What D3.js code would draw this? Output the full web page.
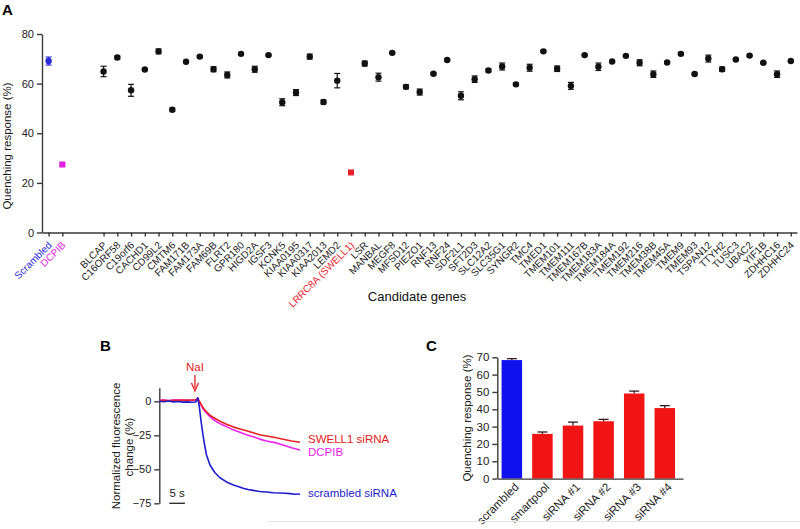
<!DOCTYPE html>
<html>
<head>
<meta charset="utf-8">
<script src="https://cdn.jsdelivr.net/npm/d3@7"></script>
<style>
  body { margin: 0; background: #fff; }
  svg { display: block; font-family: "Liberation Sans", Arial, sans-serif; }
</style>
</head>
<body>
<div id="body"></div>
<script>
// ---- panel A data ----
var controls = ["Scrambled", "DCPIB"];
var controlMean = [69.1, 27.4];
var controlSem = [1.6, 0.5];
var controlColor = ["#2a2ad8", "#e41ee4"];

var genes = ["BLCAP","C16ORF58","C19orf6","CACHD1","CD99L2","CMTM6","FAM171B","FAM173A","FAM69B","FLRT2",
  "GPR180","HIGD2A","IGSF3","KCNK5","KIAA0195","KIAA0317","KIAA2013","LEMD2","LRRC8A (SWELL1)","LSR",
  "MANBAL","MEGF8","MFSD12","PIEZO1","RNF13","RNF24","SDF2L1","SFT2D3","SLC12A2","SLC35G1",
  "SYNGR2","TMC4","TMED1","TMEM101","TMEM111","TMEM167B","TMEM183A","TMEM184A","TMEM192","TMEM216",
  "TMEM38B","TMEM45A","TMEM9","TMEM93","TSPAN12","TTYH2","TUSC3","UBAC2","YIF1B","ZDHHC16","ZDHHC24"];
var geneMean = [64.9,70.5,57.3,65.7,73.0,49.5,68.8,70.9,65.8,63.5,
  72.0,65.8,71.5,52.5,56.4,70.9,52.6,61.2,24.2,68.1,
  62.6,72.4,58.7,56.6,64.0,69.5,55.1,61.8,65.3,66.9,
  59.7,66.4,73.0,66.0,59.1,71.5,66.8,68.9,71.2,68.4,
  63.8,68.5,72.0,63.9,70.1,65.8,69.7,71.3,68.4,63.8,69.1];
var geneSem = [2.1,0.6,2.4,0.4,1.0,0.6,0.3,0.4,1.0,1.2,
  0.5,1.2,0.3,1.4,1.2,1.0,0.8,2.9,0.5,1.0,
  1.6,0.3,0.8,1.2,0.4,0.3,1.6,1.3,0.6,1.4,
  0.5,1.4,0.4,1.1,1.4,0.3,1.5,0.3,0.4,1.2,
  1.3,0.3,0.4,0.3,1.4,0.9,0.3,0.3,0.3,1.3,0.4];
var aTicks = [0, 20, 40, 60, 80];

// ---- panel B data (time in s, % change) ----
var blueT = [0,1.5,3,4.5,6,7.5,9,10.5,11.6,12.0,12.3,12.8,13.3,13.9,14.4,15.1,16.2,17.8,19.4,21.5,23.7,25.2,26.8,28.4,30.0,32.1,34.3,36.4,38.6,40.2,41.8,43.4,45];
var blueV = [0,-0.3,0.2,-0.4,-0.2,-0.6,-0.4,-0.7,-0.5,0.9,2.6,-4.0,-13.7,-23.5,-30.9,-39.5,-46.8,-52.5,-56.2,-59.3,-61.5,-62.6,-64.0,-64.9,-65.5,-66.3,-66.7,-67.2,-67.4,-67.6,-67.9,-68.3,-68.2];
var redT = [0,1.5,3,4.5,6,7.5,9,10.5,11.6,12.3,12.9,14.1,15.2,16.2,17.3,18.3,19.9,21.5,23.6,25.8,27.9,30.0,32.1,34.3,37.0,39.6,42.3,45];
var redV = [0.6,0.8,0.4,0.7,0.5,0.9,0.8,1.0,1.1,2.2,-0.3,-5.1,-7.9,-10.1,-11.9,-13.2,-15.3,-16.9,-18.8,-20.4,-21.6,-23.1,-24.6,-25.5,-26.6,-27.9,-29.2,-30.1];
var magT = [0,1.5,3,4.5,6,7.5,9,10.5,11.6,12.3,12.9,14.1,15.2,16.2,17.3,18.3,19.9,21.5,23.6,25.8,27.9,30.0,32.1,34.3,37.0,39.6,42.3,45];
var magV = [0.8,1.0,0.6,0.9,1.1,0.7,0.9,0.8,1.0,2.0,-0.8,-5.9,-9.0,-11.3,-13.4,-15.0,-17.0,-18.6,-21.0,-22.8,-24.6,-26.0,-27.8,-29.2,-30.4,-32.1,-34.2,-35.8];
var bTicks = [0, -25, -50, -75];

// ---- panel C data ----
var cGroups = ["scrambled", "smartpool", "siRNA #1", "siRNA #2", "siRNA #3", "siRNA #4"];
var cMean = [68.4, 25.8, 30.6, 33.1, 49.1, 40.7];
var cSem = [0.8, 1.1, 2.0, 1.1, 1.4, 1.4];
var cColor = ["#1111ee", "#f01414", "#f01414", "#f01414", "#f01414", "#f01414"];
var cTicks = [0, 10, 20, 30, 40, 50, 60, 70];

var svg = d3.select("#body").append("svg").attr("width", 800).attr("height", 529);

function styleAxis(g, size){
  g.selectAll("path, line").attr("stroke", "#3a3a3a").attr("stroke-width", 1.4);
  g.selectAll("text").attr("font-size", size).attr("fill", "#222")
   .attr("font-family", "'Liberation Sans', Arial, sans-serif");
}

// ================= Panel A =================
svg.append("text").attr("x", 2).attr("y", 15).attr("font-size", 15).attr("font-weight", "bold").text("A");

var ax = d3.scaleLinear().domain([-0.48, 54.45]).range([42, 797]);
var ay = d3.scaleLinear().domain([0, 80]).range([232.5, 34]);

var pts = [];
controls.forEach(function(c, i){ pts.push({name: c, slot: i, m: controlMean[i], s: controlSem[i], col: controlColor[i]}); });
genes.forEach(function(g, i){
  pts.push({name: g, slot: i + 4, m: geneMean[i], s: geneSem[i], col: g.indexOf("LRRC8A") == 0 ? "#e8202a" : "#111"});
});

svg.append("g").attr("transform", "translate(42,0)")
  .call(d3.axisLeft(ay).tickValues(aTicks).tickSize(5).tickSizeOuter(0).tickPadding(3))
  .call(styleAxis, 11);
svg.append("g").attr("transform", "translate(0,232.5)")
  .call(d3.axisBottom(ax).tickValues(pts.map(function(d){return d.slot;})).tickFormat("").tickSize(4).tickSizeOuter(0))
  .call(styleAxis, 10);

svg.append("text").attr("transform", "translate(11,146) rotate(-90)").attr("text-anchor", "middle")
  .attr("font-size", 11.5).attr("fill", "#222").text("Quenching response (%)");
svg.append("text").attr("x", 417).attr("y", 301).attr("text-anchor", "middle")
  .attr("font-size", 13).attr("fill", "#111").text("Candidate genes");

var pg = svg.append("g");
pts.forEach(function(d){
  var x = ax(d.slot);
  pg.append("line").attr("x1", x).attr("x2", x).attr("y1", ay(d.m - d.s)).attr("y2", ay(d.m + d.s))
    .attr("stroke", d.col).attr("stroke-width", 1.2);
  [d.m - d.s, d.m + d.s].forEach(function(v){
    pg.append("line").attr("x1", x - 3).attr("x2", x + 3).attr("y1", ay(v)).attr("y2", ay(v))
      .attr("stroke", d.col).attr("stroke-width", 1.2);
  });
  if (d.name == "DCPIB" || d.name.indexOf("LRRC8A") == 0) {
    pg.append("rect").attr("x", x - 3).attr("y", ay(d.m) - 3).attr("width", 6).attr("height", 6).attr("fill", d.col);
  } else {
    pg.append("circle").attr("cx", x).attr("cy", ay(d.m)).attr("r", 3.2).attr("fill", d.col);
  }
  pg.append("text").attr("transform", "translate(" + (x + 1) + ",243) rotate(-45)")
    .attr("text-anchor", "end").attr("dy", "0.4em").attr("font-size", 10)
    .attr("fill", d.col == "#111" ? "#222" : d.col).text(d.name);
});

// ================= Panel B =================
svg.append("text").attr("x", 100).attr("y", 351).attr("font-size", 15).attr("font-weight", "bold").text("B");

var bx = d3.scaleLinear().domain([0, 45]).range([159.3, 300]);
var by = d3.scaleLinear().domain([-75, 10]).range([503.3, 387.7]);

svg.append("g").attr("transform", "translate(159.3,0)")
  .call(d3.axisLeft(by).tickValues(bTicks).tickSize(5).tickSizeOuter(0).tickPadding(3))
  .call(styleAxis, 11);

svg.append("text").attr("transform", "translate(120,446) rotate(-90)").attr("text-anchor", "middle")
  .attr("font-size", 11.5).attr("fill", "#222").text("Normalized fluorescence");
svg.append("text").attr("transform", "translate(133,447) rotate(-90)").attr("text-anchor", "middle")
  .attr("font-size", 11.5).attr("fill", "#222").text("change (%)");

var line = d3.line().x(function(d){return bx(d[0]);}).y(function(d){return by(d[1]);});
var traces = [
  {t: magT, v: magV, col: "#ee22ee"},
  {t: redT, v: redV, col: "#e82020"},
  {t: blueT, v: blueV, col: "#1c1cd0"}
];
traces.forEach(function(tr){
  svg.append("path").datum(d3.zip(tr.t, tr.v)).attr("d", line)
    .attr("fill", "none").attr("stroke", tr.col).attr("stroke-width", 1.6).attr("stroke-linejoin", "round");
});

svg.append("text").attr("x", 308).attr("y", 443).attr("font-size", 11.5).attr("fill", "#e82020").text("SWELL1 siRNA");
svg.append("text").attr("x", 308).attr("y", 456).attr("font-size", 11.5).attr("fill", "#ee22ee").text("DCPIB");
svg.append("text").attr("x", 308).attr("y", 497).attr("font-size", 11.5).attr("fill", "#1c1cd0").text("scrambled siRNA");

// NaI arrow
var ar = bx(11.4);
svg.append("text").attr("x", ar).attr("y", 371).attr("text-anchor", "middle").attr("font-size", 11.5)
  .attr("fill", "#e82020").text("NaI");
svg.append("line").attr("x1", ar).attr("x2", ar).attr("y1", 375).attr("y2", 388).attr("stroke", "#e82020").attr("stroke-width", 1.3);
svg.append("path").attr("d", "M" + (ar - 3.5) + ",383 L" + ar + ",391 L" + (ar + 3.5) + ",383")
  .attr("fill", "none").attr("stroke", "#e82020").attr("stroke-width", 1.3);

// scale bar 5 s
svg.append("line").attr("x1", bx(3.2)).attr("x2", bx(8.2)).attr("y1", 503.3).attr("y2", 503.3)
  .attr("stroke", "#333").attr("stroke-width", 1.4);
svg.append("text").attr("x", bx(5.7)).attr("y", 497).attr("text-anchor", "middle").attr("font-size", 11.5)
  .attr("fill", "#222").text("5 s");

// ================= Panel C =================
svg.append("text").attr("x", 426).attr("y", 351).attr("font-size", 15).attr("font-weight", "bold").text("C");

var cx = d3.scaleBand().domain(cGroups).range([497.3, 683]).paddingInner(0.33).paddingOuter(0.2).align(0.35);
var cy = d3.scaleLinear().domain([0, 70]).range([478.6, 357.3]);

svg.selectAll("rect.bar").data(cGroups).enter().append("rect").attr("class", "bar")
  .attr("x", function(d){return cx(d);})
  .attr("y", function(d, i){return cy(cMean[i]);})
  .attr("width", cx.bandwidth())
  .attr("height", function(d, i){return cy(0) - cy(cMean[i]);})
  .attr("fill", function(d, i){return cColor[i];});

cGroups.forEach(function(g, i){
  var xm = cx(g) + cx.bandwidth() / 2;
  svg.append("line").attr("x1", xm).attr("x2", xm).attr("y1", cy(cMean[i])).attr("y2", cy(cMean[i] + cSem[i]))
    .attr("stroke", "#2a0a0a").attr("stroke-width", 1.2);
  svg.append("line").attr("x1", xm - 5).attr("x2", xm + 5).attr("y1", cy(cMean[i] + cSem[i])).attr("y2", cy(cMean[i] + cSem[i]))
    .attr("stroke", "#2a0a0a").attr("stroke-width", 1.2);
});

svg.append("g").attr("transform", "translate(497.3,0)")
  .call(d3.axisLeft(cy).tickValues(cTicks).tickSize(5).tickSizeOuter(0).tickPadding(3))
  .call(styleAxis, 11.5);
svg.append("g").attr("transform", "translate(0," + cy(0) + ")")
  .call(d3.axisBottom(cx).tickSize(0).tickSizeOuter(0).tickFormat(""))
  .call(styleAxis, 11);

cGroups.forEach(function(g){
  var xm = cx(g) + cx.bandwidth() / 2;
  svg.append("text").attr("transform", "translate(" + (xm + 4) + ",484) rotate(-45)")
    .attr("text-anchor", "end").attr("dy", "0.45em").attr("font-size", 11.5).attr("fill", "#222").text(g);
});

svg.append("text").attr("transform", "translate(471,418) rotate(-90)").attr("text-anchor", "middle")
  .attr("font-size", 11.5).attr("fill", "#222").text("Quenching response (%)");

// faint frame line at bottom right
svg.append("line").attr("x1", 267).attr("x2", 800).attr("y1", 521.5).attr("y2", 521.5)
  .attr("stroke", "#e4e4e4").attr("stroke-width", 1);
</script>
</body>
</html>
